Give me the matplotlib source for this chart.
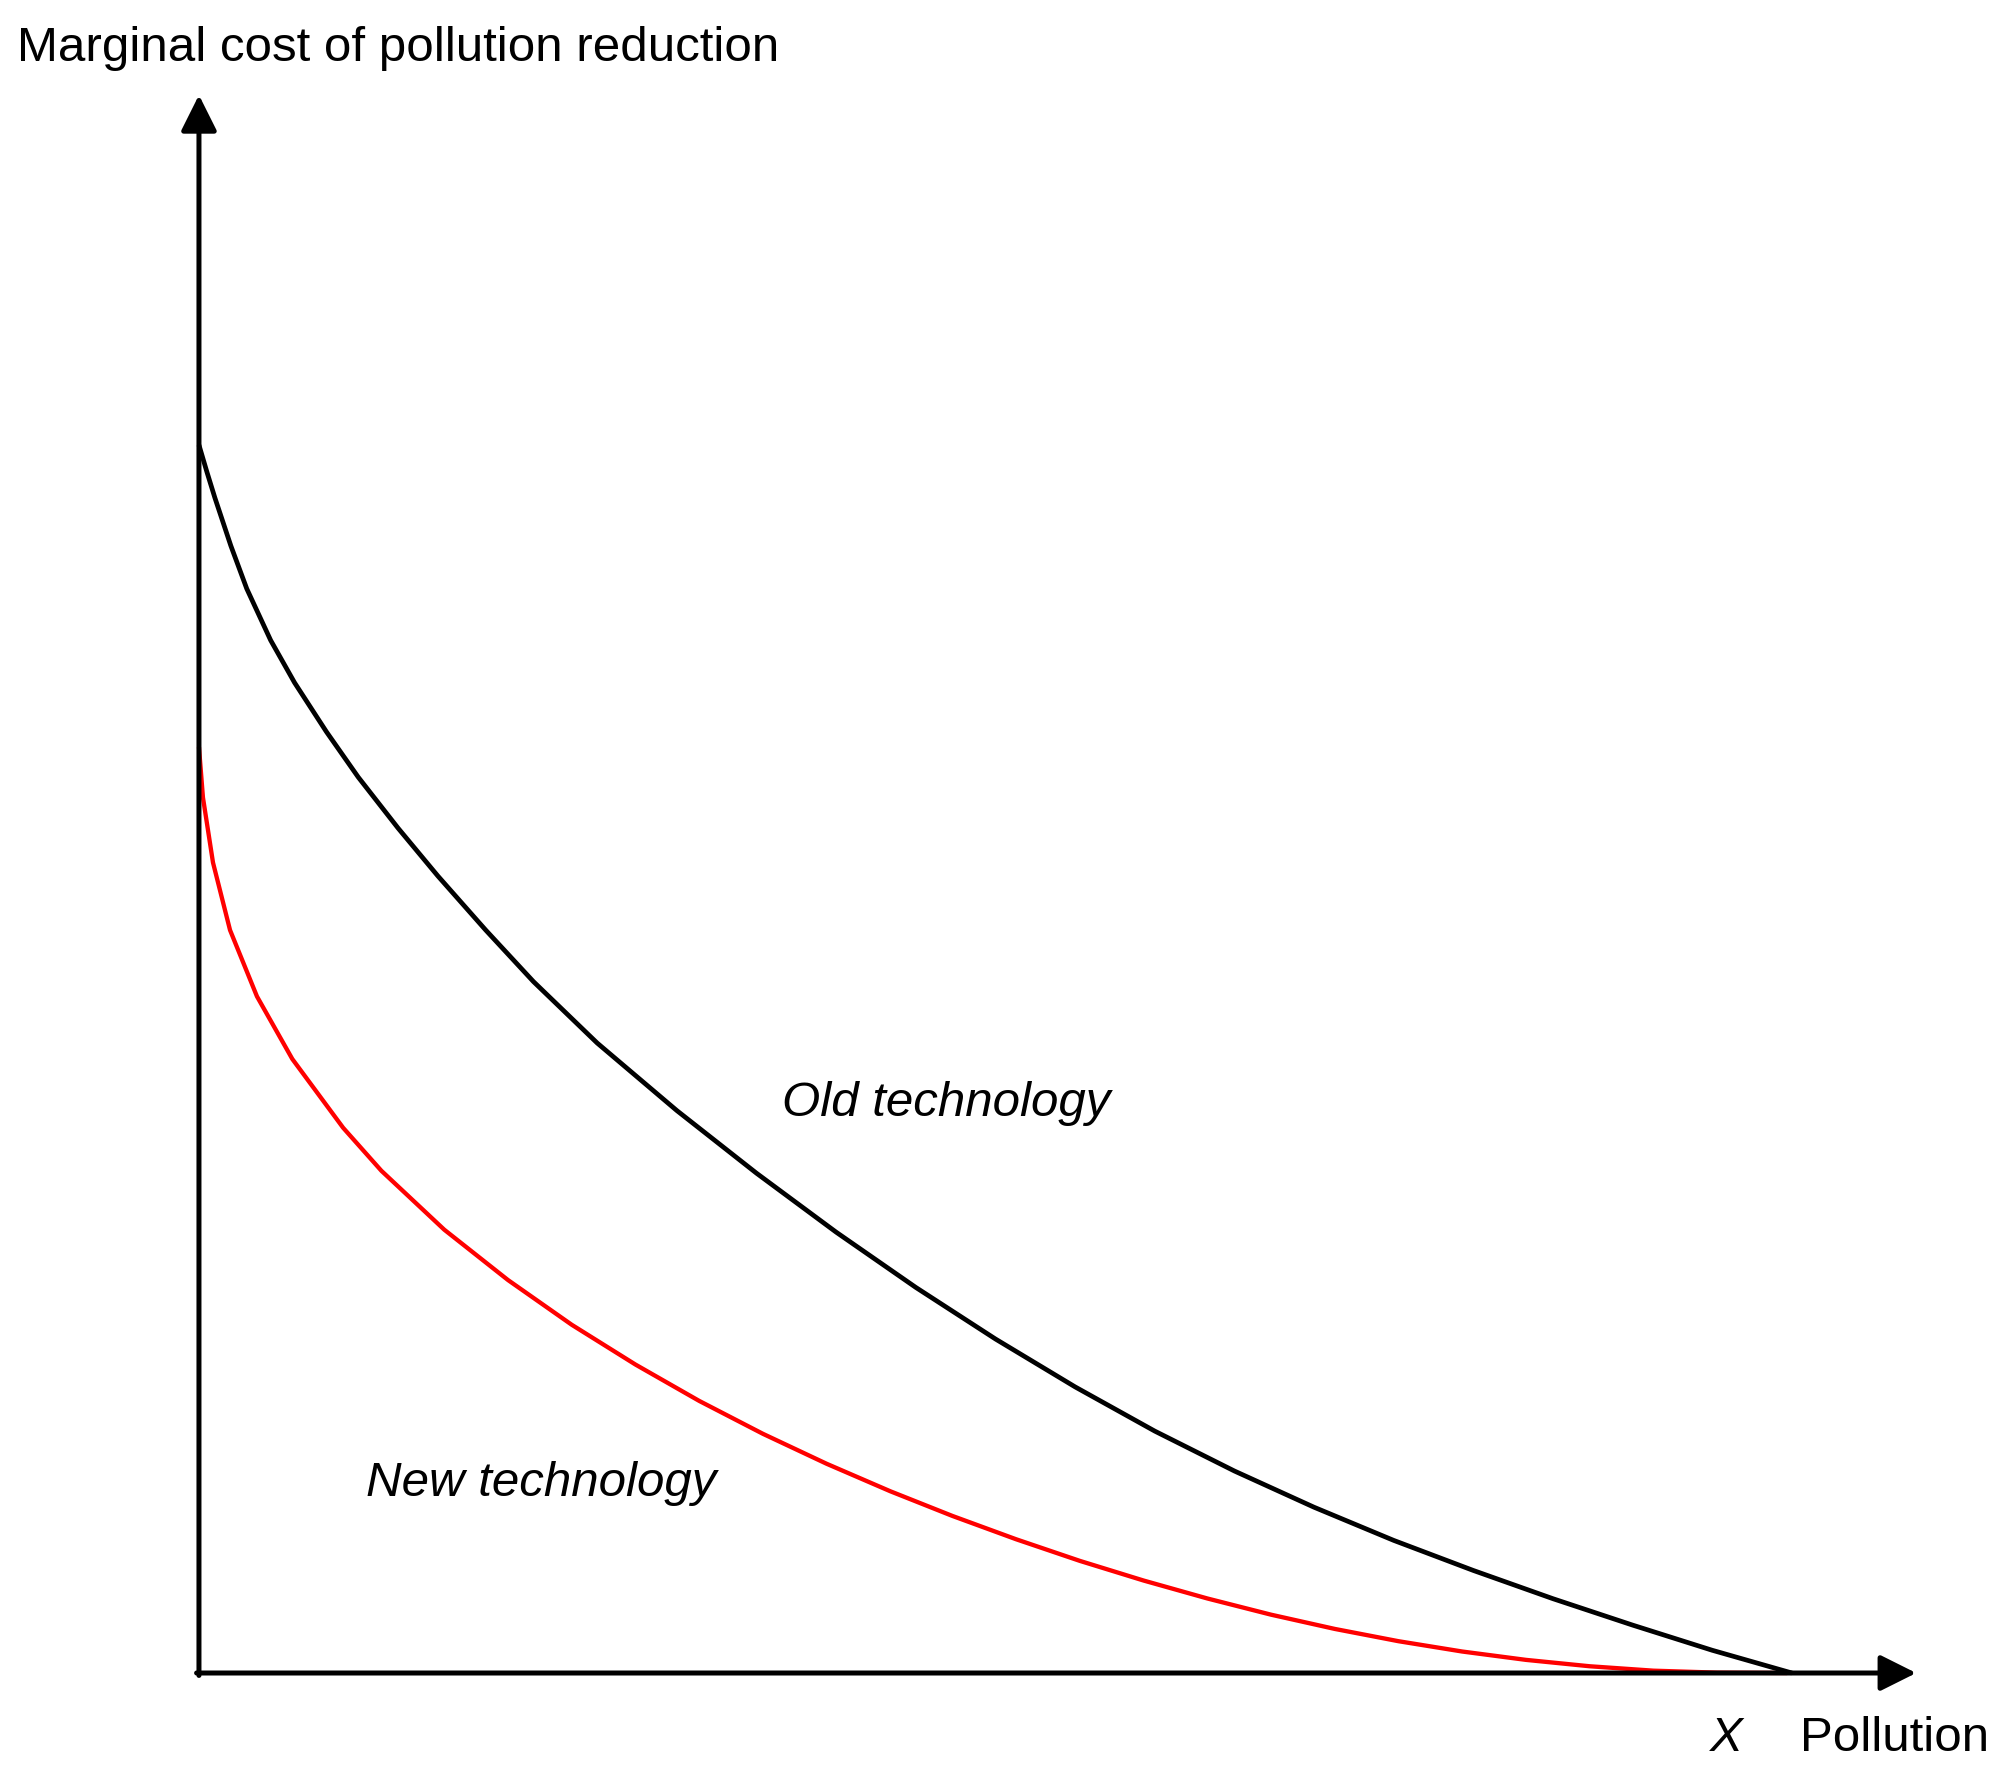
import matplotlib
matplotlib.use('Agg')
import matplotlib.pyplot as plt
import numpy as np

# --- Data: curves (pollution 0..X=1, cost scaled so old tech starts at 1) ---
old_x = [0.0, 0.005, 0.01, 0.02, 0.03, 0.045, 0.06, 0.08, 0.10, 0.125,
         0.15, 0.18, 0.21, 0.25, 0.30, 0.35, 0.40, 0.45, 0.50, 0.55,
         0.60, 0.65, 0.70, 0.75, 0.80, 0.85, 0.90, 0.95, 1.0]
old_y = [1.0, 0.978, 0.957, 0.918, 0.883, 0.841, 0.8065, 0.7665, 0.7295, 0.688,
         0.649, 0.605, 0.563, 0.513, 0.458, 0.407, 0.359, 0.314, 0.272, 0.233,
         0.197, 0.1645, 0.135, 0.108, 0.0835, 0.0605, 0.039, 0.0185, 0.0]

new_x = [0.0, 0.0025, 0.0088, 0.0195, 0.0364, 0.0586, 0.0905, 0.1145, 0.154, 0.194,
         0.234, 0.274, 0.314, 0.354, 0.394, 0.434, 0.473, 0.513, 0.553, 0.593,
         0.633, 0.673, 0.713, 0.753, 0.793, 0.833, 0.873, 0.913, 0.953, 0.997]
new_y = [0.754, 0.713, 0.660, 0.605, 0.551, 0.500, 0.444, 0.409, 0.361, 0.320,
         0.2836, 0.2512, 0.2216, 0.1948, 0.1704, 0.148, 0.1279, 0.1089, 0.0913, 0.0753,
         0.0607, 0.0475, 0.0359, 0.0259, 0.0175, 0.0107, 0.0055, 0.0019, 0.0003, 0.0]

y_label = 'Marginal cost of pollution reduction'
x_label = 'Pollution'
x_mark = 'X'
old_label = 'Old technology'
new_label = 'New technology'

fonts = ['Liberation Sans', 'DejaVu Sans']
fs = 35.5

fig = plt.figure(figsize=(19.93, 17.78), dpi=100)
ax = fig.add_axes([0, 0, 1, 1])
ax.set_xlim(-0.1249, 1.1262)
ax.set_ylim(-0.0855, 1.3624)
ax.axis('off')

# axes with arrow heads
arrow_kw = dict(arrowstyle='-|>', color='black', lw=3.6, mutation_scale=55,
                shrinkA=0, shrinkB=0)
ax.annotate('', xy=(0, 1.285), xytext=(0, -0.002), arrowprops=arrow_kw)
ax.annotate('', xy=(1.078, 0), xytext=(-0.0015, 0), arrowprops=arrow_kw)

# curves
ax.plot(old_x, old_y, color='black', lw=3.4, solid_capstyle='butt',
        solid_joinstyle='round', zorder=3)
ax.plot(new_x, new_y, color='#ff0000', lw=3.1, solid_capstyle='butt',
        solid_joinstyle='round', zorder=2)

# labels
ax.text(-0.114, 1.3127, y_label, fontsize=fs, family=fonts, va='baseline', ha='left')
ax.text(1.005, -0.0635, x_label, fontsize=fs, family=fonts, va='baseline', ha='left')
ax.text(0.959, -0.0635, x_mark, fontsize=fs, family=fonts, style='italic',
        va='baseline', ha='center')
ax.text(0.366, 0.454, old_label, fontsize=fs, family=fonts, style='italic',
        va='baseline', ha='left')
ax.text(0.105, 0.144, new_label, fontsize=fs, family=fonts, style='italic',
        va='baseline', ha='left')

plt.savefig('out.png', dpi=100)
